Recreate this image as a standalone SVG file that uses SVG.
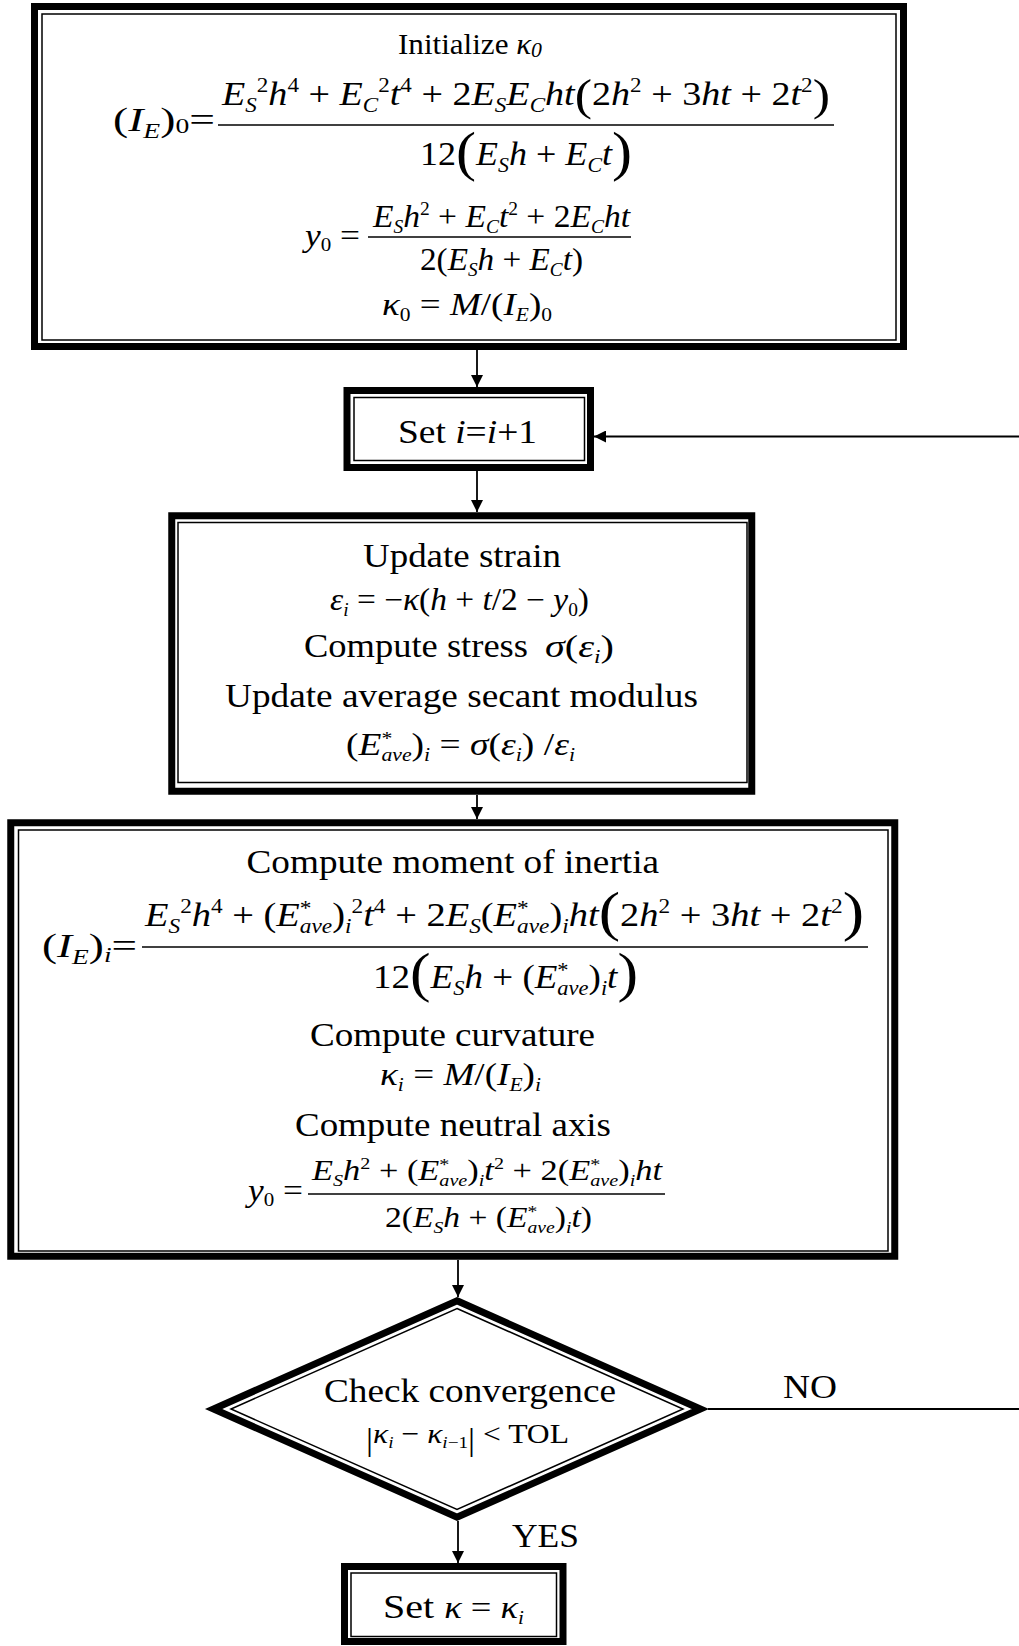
<svg xmlns="http://www.w3.org/2000/svg" width="1019" height="1646" viewBox="0 0 1019 1646">
<style>
text { font-family: "Liberation Serif", "Times New Roman", serif; fill: #000; }
.i { font-style: italic; }
.lbl { font-size: 34px; }
.thick { fill: none; stroke: #000; stroke-width: 7; }
.thin { fill: none; stroke: #000; stroke-width: 1.5; }
.bar { stroke: #000; stroke-width: 1.5; }
.conn { fill: none; stroke: #000; stroke-width: 1.8; }
</style>
<defs>
<marker id="arr" viewBox="0 0 12 12" refX="12" refY="6" markerWidth="12" markerHeight="12" markerUnits="userSpaceOnUse" orient="auto"><path d="M0,0 L12,6 L0,12 z" fill="#000"/></marker>
</defs>
<rect width="1019" height="1646" fill="#fff"/>

<g id="node-init">
<rect class="thick" x="34.5" y="6.5" width="869" height="340"/>
<rect class="thin" x="42" y="14" width="854" height="326"/>
<text x="398" y="54" font-size="30" textLength="144" lengthAdjust="spacingAndGlyphs">Initialize <tspan class="i">κ</tspan><tspan class="i" font-size="21" dy="3">0</tspan></text>
<text x="113" y="131" font-size="33" textLength="102" lengthAdjust="spacingAndGlyphs">(<tspan class="i">I</tspan><tspan class="i" font-size="20" dy="7">E</tspan><tspan dy="-7">)</tspan><tspan font-size="20" dy="2">0</tspan><tspan dy="-2">=</tspan></text>
<text x="222" y="105" font-size="33" textLength="608" lengthAdjust="spacingAndGlyphs"><tspan class="i">E</tspan><tspan class="i" font-size="20" dy="7">S</tspan><tspan font-size="20" dy="-20">2</tspan><tspan class="i" dy="13">h</tspan><tspan font-size="20" dy="-13">4</tspan><tspan dy="13"> + </tspan><tspan class="i">E</tspan><tspan class="i" font-size="20" dy="7">C</tspan><tspan font-size="20" dy="-20">2</tspan><tspan class="i" dy="13">t</tspan><tspan font-size="20" dy="-13">4</tspan><tspan dy="13"> + 2</tspan><tspan class="i">E</tspan><tspan class="i" font-size="20" dy="7">S</tspan><tspan class="i" dy="-7">E</tspan><tspan class="i" font-size="20" dy="7">C</tspan><tspan class="i" dy="-7">ht</tspan><tspan font-size="45" dy="5">(</tspan><tspan dy="-5">2</tspan><tspan class="i">h</tspan><tspan font-size="20" dy="-13">2</tspan><tspan dy="13"> + 3</tspan><tspan class="i">ht</tspan><tspan> + 2</tspan><tspan class="i">t</tspan><tspan font-size="20" dy="-13">2</tspan><tspan font-size="45" dy="18">)</tspan></text>
<line class="bar" x1="218" y1="125" x2="834" y2="125"/>
<text x="420" y="165" font-size="33" textLength="212" lengthAdjust="spacingAndGlyphs">12<tspan font-size="55" dy="5">(</tspan><tspan class="i" dy="-5">E</tspan><tspan class="i" font-size="20" dy="7">S</tspan><tspan class="i" dy="-7">h</tspan><tspan> + </tspan><tspan class="i">E</tspan><tspan class="i" font-size="20" dy="7">C</tspan><tspan class="i" dy="-7">t</tspan><tspan font-size="55" dy="5">)</tspan></text>
<text x="305" y="246" font-size="32" textLength="55" lengthAdjust="spacingAndGlyphs"><tspan class="i">y</tspan><tspan font-size="19" dy="5">0</tspan><tspan dy="-5"> =</tspan></text>
<text x="373" y="227" font-size="31" textLength="257" lengthAdjust="spacingAndGlyphs"><tspan class="i">E</tspan><tspan class="i" font-size="18" dy="6">S</tspan><tspan class="i" dy="-6">h</tspan><tspan font-size="18" dy="-12">2</tspan><tspan dy="12"> + </tspan><tspan class="i">E</tspan><tspan class="i" font-size="18" dy="6">C</tspan><tspan class="i" dy="-6">t</tspan><tspan font-size="18" dy="-12">2</tspan><tspan dy="12"> + 2</tspan><tspan class="i">E</tspan><tspan class="i" font-size="18" dy="6">C</tspan><tspan class="i" dy="-6">ht</tspan></text>
<line class="bar" x1="368" y1="237" x2="631" y2="237"/>
<text x="420" y="270" font-size="31" textLength="163" lengthAdjust="spacingAndGlyphs">2(<tspan class="i">E</tspan><tspan class="i" font-size="18" dy="6">S</tspan><tspan class="i" dy="-6">h</tspan><tspan> + </tspan><tspan class="i">E</tspan><tspan class="i" font-size="18" dy="6">C</tspan><tspan class="i" dy="-6">t</tspan><tspan>)</tspan></text>
<text x="382" y="315" font-size="31" textLength="170" lengthAdjust="spacingAndGlyphs"><tspan class="i">κ</tspan><tspan font-size="18" dy="6">0</tspan><tspan dy="-6"> = </tspan><tspan class="i">M</tspan><tspan>/(</tspan><tspan class="i">I</tspan><tspan class="i" font-size="18" dy="6">E</tspan><tspan dy="-6">)</tspan><tspan font-size="18" dy="6">0</tspan></text>
</g>

<g id="node-set-i">
<rect class="thick" x="347" y="390.5" width="243.5" height="77"/>
<rect class="thin" x="354" y="397.5" width="230.5" height="63"/>
<text class="lbl" x="398" y="443" textLength="139" lengthAdjust="spacingAndGlyphs">Set <tspan class="i">i</tspan>=<tspan class="i">i</tspan>+1</text>
</g>

<g id="node-update">
<rect class="thick" x="171.75" y="515.75" width="580" height="275.5"/>
<rect class="thin" x="178" y="522.5" width="569" height="260"/>
<text class="lbl" x="363" y="567" textLength="198" lengthAdjust="spacingAndGlyphs">Update strain</text>
<text x="330" y="610" font-size="31" textLength="259" lengthAdjust="spacingAndGlyphs"><tspan class="i">ε</tspan><tspan class="i" font-size="18" dy="6">i</tspan><tspan dy="-6"> = −</tspan><tspan class="i">κ</tspan><tspan>(</tspan><tspan class="i">h</tspan><tspan> + </tspan><tspan class="i">t</tspan><tspan>/2 − </tspan><tspan class="i">y</tspan><tspan font-size="18" dy="6">0</tspan><tspan dy="-6">)</tspan></text>
<text class="lbl" x="304" y="657" textLength="224" lengthAdjust="spacingAndGlyphs">Compute stress</text>
<text x="545" y="657" font-size="31" textLength="69" lengthAdjust="spacingAndGlyphs"><tspan class="i">σ</tspan>(<tspan class="i">ε</tspan><tspan class="i" font-size="18" dy="6">i</tspan><tspan dy="-6">)</tspan></text>
<text class="lbl" x="225" y="707" textLength="473" lengthAdjust="spacingAndGlyphs">Update average secant modulus</text>
<text x="346" y="755" font-size="31" textLength="229" lengthAdjust="spacingAndGlyphs">(<tspan class="i">E</tspan><tspan font-size="18" dy="-10">*</tspan><tspan class="i" font-size="18" dx="-9" dy="16">ave</tspan><tspan dy="-6">)</tspan><tspan class="i" font-size="18" dy="6">i</tspan><tspan dy="-6"> = </tspan><tspan class="i">σ</tspan>(<tspan class="i">ε</tspan><tspan class="i" font-size="18" dy="6">i</tspan><tspan dy="-6">) /</tspan><tspan class="i">ε</tspan><tspan class="i" font-size="18" dy="6">i</tspan></text>
</g>

<g id="node-compute">
<rect class="thick" x="10.75" y="822.75" width="884" height="433.5"/>
<rect class="thin" x="18.5" y="830" width="869.5" height="421"/>
<text class="lbl" x="246.5" y="873" textLength="412.5" lengthAdjust="spacingAndGlyphs">Compute moment of inertia</text>
<text x="42" y="957" font-size="33" textLength="95" lengthAdjust="spacingAndGlyphs">(<tspan class="i">I</tspan><tspan class="i" font-size="20" dy="7">E</tspan><tspan dy="-7">)</tspan><tspan class="i" font-size="20" dy="5">i</tspan><tspan dy="-5">=</tspan></text>
<text x="145" y="926" font-size="33" textLength="719" lengthAdjust="spacingAndGlyphs"><tspan class="i">E</tspan><tspan class="i" font-size="20" dy="7">S</tspan><tspan font-size="20" dy="-20">2</tspan><tspan class="i" dy="13">h</tspan><tspan font-size="20" dy="-13">4</tspan><tspan dy="13"> + (</tspan><tspan class="i">E</tspan><tspan font-size="20" dy="-11">*</tspan><tspan class="i" font-size="20" dx="-10" dy="18">ave</tspan><tspan dy="-7">)</tspan><tspan class="i" font-size="20" dy="7">i</tspan><tspan font-size="20" dy="-20">2</tspan><tspan class="i" dy="13">t</tspan><tspan font-size="20" dy="-13">4</tspan><tspan dy="13"> + 2</tspan><tspan class="i">E</tspan><tspan class="i" font-size="20" dy="7">S</tspan><tspan dy="-7">(</tspan><tspan class="i">E</tspan><tspan font-size="20" dy="-11">*</tspan><tspan class="i" font-size="20" dx="-10" dy="18">ave</tspan><tspan dy="-7">)</tspan><tspan class="i" font-size="20" dy="7">i</tspan><tspan class="i" dy="-7">ht</tspan><tspan font-size="55" dy="4">(</tspan><tspan dy="-4">2</tspan><tspan class="i">h</tspan><tspan font-size="20" dy="-13">2</tspan><tspan dy="13"> + 3</tspan><tspan class="i">ht</tspan><tspan> + 2</tspan><tspan class="i">t</tspan><tspan font-size="20" dy="-13">2</tspan><tspan font-size="55" dy="17">)</tspan></text>
<line class="bar" x1="142" y1="947" x2="868" y2="947"/>
<text x="373" y="988" font-size="33" textLength="265" lengthAdjust="spacingAndGlyphs">12<tspan font-size="55" dy="3">(</tspan><tspan class="i" dy="-3">E</tspan><tspan class="i" font-size="20" dy="7">S</tspan><tspan class="i" dy="-7">h</tspan><tspan> + (</tspan><tspan class="i">E</tspan><tspan font-size="20" dy="-11">*</tspan><tspan class="i" font-size="20" dx="-10" dy="18">ave</tspan><tspan dy="-7">)</tspan><tspan class="i" font-size="20" dy="7">i</tspan><tspan class="i" dy="-7">t</tspan><tspan font-size="55" dy="3">)</tspan></text>
<text class="lbl" x="310" y="1046" textLength="285" lengthAdjust="spacingAndGlyphs">Compute curvature</text>
<text x="380" y="1085" font-size="31" textLength="161" lengthAdjust="spacingAndGlyphs"><tspan class="i">κ</tspan><tspan class="i" font-size="18" dy="6">i</tspan><tspan dy="-6"> = </tspan><tspan class="i">M</tspan><tspan>/(</tspan><tspan class="i">I</tspan><tspan class="i" font-size="18" dy="6">E</tspan><tspan dy="-6">)</tspan><tspan class="i" font-size="18" dy="6">i</tspan></text>
<text class="lbl" x="295" y="1136" textLength="316" lengthAdjust="spacingAndGlyphs">Compute neutral axis</text>
<text x="248" y="1201" font-size="32" textLength="55" lengthAdjust="spacingAndGlyphs"><tspan class="i">y</tspan><tspan font-size="19" dy="5">0</tspan><tspan dy="-5"> =</tspan></text>
<text x="312" y="1180" font-size="29" textLength="350" lengthAdjust="spacingAndGlyphs"><tspan class="i">E</tspan><tspan class="i" font-size="17" dy="6">S</tspan><tspan class="i" dy="-6">h</tspan><tspan font-size="17" dy="-11">2</tspan><tspan dy="11"> + (</tspan><tspan class="i">E</tspan><tspan font-size="17" dy="-10">*</tspan><tspan class="i" font-size="17" dx="-8.5" dy="16">ave</tspan><tspan dy="-6">)</tspan><tspan class="i" font-size="17" dy="6">i</tspan><tspan class="i" dy="-6">t</tspan><tspan font-size="17" dy="-11">2</tspan><tspan dy="11"> + 2(</tspan><tspan class="i">E</tspan><tspan font-size="17" dy="-10">*</tspan><tspan class="i" font-size="17" dx="-8.5" dy="16">ave</tspan><tspan dy="-6">)</tspan><tspan class="i" font-size="17" dy="6">i</tspan><tspan class="i" dy="-6">ht</tspan></text>
<line class="bar" x1="308" y1="1194" x2="665" y2="1194"/>
<text x="385" y="1227" font-size="29" textLength="207" lengthAdjust="spacingAndGlyphs">2(<tspan class="i">E</tspan><tspan class="i" font-size="17" dy="6">S</tspan><tspan class="i" dy="-6">h</tspan><tspan> + (</tspan><tspan class="i">E</tspan><tspan font-size="17" dy="-10">*</tspan><tspan class="i" font-size="17" dx="-8.5" dy="16">ave</tspan><tspan dy="-6">)</tspan><tspan class="i" font-size="17" dy="6">i</tspan><tspan class="i" dy="-6">t</tspan><tspan>)</tspan></text>
</g>

<g id="node-check">
<polygon class="thick" points="457,1300.8 700.4,1409 457,1517.2 213.6,1409"/>
<polygon class="thin" points="457,1308.5 683,1409 457,1509.5 231,1409"/>
<text class="lbl" x="324" y="1402" textLength="292" lengthAdjust="spacingAndGlyphs">Check convergence</text>
<text x="366" y="1443" font-size="28" textLength="203" lengthAdjust="spacingAndGlyphs"><tspan font-size="31" dy="7">|</tspan><tspan class="i" dy="-7">κ</tspan><tspan class="i" font-size="17" dy="5">i</tspan><tspan dy="-5"> − </tspan><tspan class="i">κ</tspan><tspan class="i" font-size="17" dy="5">i</tspan><tspan font-size="17">−1</tspan><tspan font-size="31" dy="2">|</tspan><tspan dy="-7"> &lt; TOL</tspan></text>
</g>

<g id="node-set-kappa">
<rect class="thick" x="344.5" y="1566.5" width="218.5" height="75"/>
<rect class="thin" x="351" y="1573" width="205.5" height="63.5"/>
<text x="383" y="1618" font-size="31" textLength="141" lengthAdjust="spacingAndGlyphs"><tspan font-size="34">Set </tspan><tspan class="i">κ</tspan><tspan> = </tspan><tspan class="i">κ</tspan><tspan class="i" font-size="18" dy="6">i</tspan></text>
</g>

<g id="connectors">
<line class="conn" x1="477" y1="350" x2="477" y2="387" marker-end="url(#arr)"/>
<line class="conn" x1="477" y1="471" x2="477" y2="512" marker-end="url(#arr)"/>
<line class="conn" x1="477" y1="795" x2="477" y2="819" marker-end="url(#arr)"/>
<line class="conn" x1="458" y1="1260" x2="458" y2="1297" marker-end="url(#arr)"/>
<line class="conn" x1="458" y1="1521" x2="458" y2="1563" marker-end="url(#arr)"/>
<line class="conn" x1="708" y1="1409" x2="1019" y2="1409"/>
<line class="conn" x1="1019" y1="436.5" x2="594" y2="436.5" marker-end="url(#arr)"/>
<text class="lbl" x="512" y="1547" textLength="67" lengthAdjust="spacingAndGlyphs">YES</text>
<text class="lbl" x="783" y="1398" textLength="54" lengthAdjust="spacingAndGlyphs">NO</text>
</g>
</svg>
